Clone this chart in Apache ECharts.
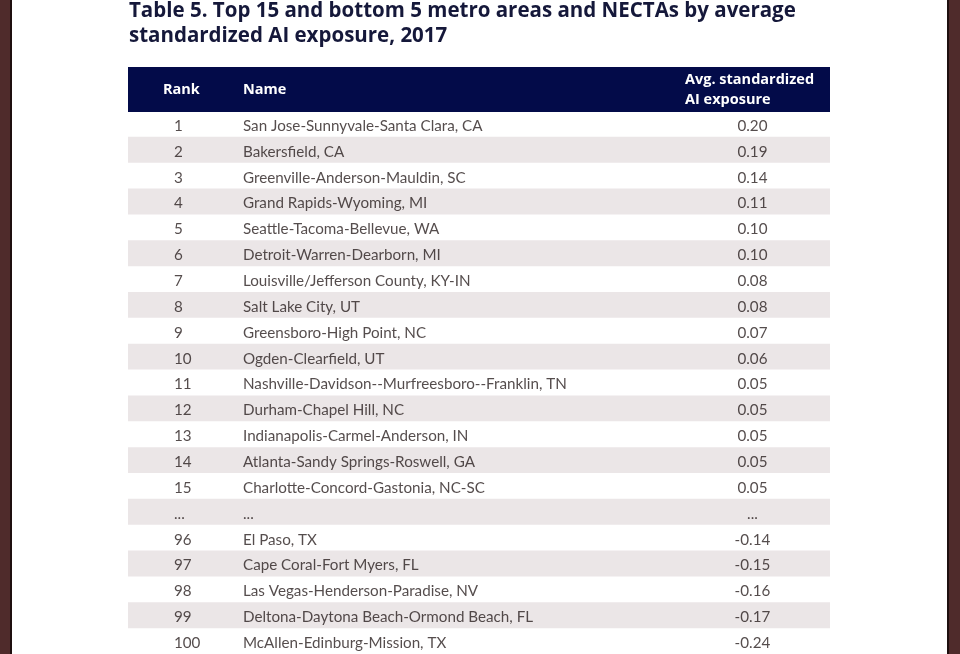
<!DOCTYPE html>
<html>
<head>
<meta charset="utf-8">
<script src="https://cdn.jsdelivr.net/npm/echarts@6/dist/echarts.min.js"></script>
<style>
  html, body { margin: 0; padding: 0; background: #ffffff; }
  #table { width: 960px; height: 654px; }
</style>
</head>
<body>
<div id="table"></div>
<script>
var ranks = ['1', '2', '3', '4', '5', '6', '7', '8', '9', '10', '11', '12', '13', '14', '15', '...', '96', '97', '98', '99', '100'];
var names = [
	'San Jose-Sunnyvale-Santa Clara, CA',
	'Bakersfield, CA',
	'Greenville-Anderson-Mauldin, SC',
	'Grand Rapids-Wyoming, MI',
	'Seattle-Tacoma-Bellevue, WA',
	'Detroit-Warren-Dearborn, MI',
	'Louisville/Jefferson County, KY-IN',
	'Salt Lake City, UT',
	'Greensboro-High Point, NC',
	'Ogden-Clearfield, UT',
	'Nashville-Davidson--Murfreesboro--Franklin, TN',
	'Durham-Chapel Hill, NC',
	'Indianapolis-Carmel-Anderson, IN',
	'Atlanta-Sandy Springs-Roswell, GA',
	'Charlotte-Concord-Gastonia, NC-SC',
	'...',
	'El Paso, TX',
	'Cape Coral-Fort Myers, FL',
	'Las Vegas-Henderson-Paradise, NV',
	'Deltona-Daytona Beach-Ormond Beach, FL',
	'McAllen-Edinburg-Mission, TX'
];
var exposure = [0.20, 0.19, 0.14, 0.11, 0.10, 0.10, 0.08, 0.08, 0.07, 0.06, 0.05, 0.05, 0.05, 0.05, 0.05, null, -0.14, -0.15, -0.16, -0.17, -0.24];
var headers = ['Rank', 'Name', 'Avg. standardized\nAI exposure'];

var font = 'Lato';
var headFont = '"Open Sans"';
var textColor = '#2a2021';

var chart = echarts.init(document.getElementById('table'));

// one text column = scatter with invisible symbols, labels carry the text
function column(x, align, fmt) {
	return {
		type: 'scatter',
		symbolSize: 0,
		silent: true,
		data: ranks.map(function (r, i) { return [x, i]; }),
		label: {
			show: true,
			position: 'inside',
			offset: [0, 2],
			align: align,
			verticalAlign: 'middle',
			fontFamily: font,
			fontSize: 15.2,
			color: textColor,
			formatter: function (p) { return fmt(p.dataIndex); }
		}
	};
}

var option = {
	backgroundColor: '#ffffff',
	animation: false,
	title: {
		text: 'Table 5. Top 15 and bottom 5 metro areas and NECTAs by average\nstandardized AI exposure, 2017',
		left: 124,
		top: -6,
		textStyle: {
			fontFamily: headFont,
			fontWeight: 'bold',
			fontSize: 20.5,
			lineHeight: 25,
			color: '#15183a'
		}
	},
	grid: { left: 128, width: 702, top: 111, height: 546 },
	xAxis: { type: 'value', min: 0, max: 1, show: false },
	yAxis: {
		type: 'category',
		inverse: true,
		show: false,
		data: ranks
	},
	series: [
		{
			type: 'bar',
			silent: true,
			barWidth: '100%',
			itemStyle: { color: '#ebe6e7' },
			data: ranks.map(function (r, i) { return i % 2 === 1 ? 1 : 0; })
		},
		column(0.0655, 'left', function (i) { return ranks[i]; }),
		column(0.1638, 'left', function (i) { return names[i]; }),
		column(0.8895, 'center', function (i) {
			return exposure[i] === null ? '...' : exposure[i].toFixed(2);
		})
	],
	graphic: [
		{ type: 'rect', shape: { x: 128, y: 67, width: 702, height: 45 }, style: { fill: '#030b49' }, silent: true },
		{ type: 'text', x: 163, y: 90, style: { text: headers[0], fill: '#ffffff', font: 'bold 14.5px "Open Sans"', verticalAlign: 'middle' } },
		{ type: 'text', x: 243, y: 90, style: { text: headers[1], fill: '#ffffff', font: 'bold 14.5px "Open Sans"', verticalAlign: 'middle' } },
		{ type: 'text', x: 685, y: 90, style: { text: headers[2], fill: '#ffffff', font: 'bold 14.5px "Open Sans"', lineHeight: 20, verticalAlign: 'middle' } },
		// frame edges
		{ type: 'rect', shape: { x: 0, y: 0, width: 10, height: 654 }, style: { fill: '#4f2b2b' }, silent: true },
		{ type: 'rect', shape: { x: 10, y: 0, width: 2, height: 654 }, style: { fill: '#1e0f0f' }, silent: true },
		{ type: 'rect', shape: { x: 947, y: 0, width: 2, height: 654 }, style: { fill: '#1e0f0f' }, silent: true },
		{ type: 'rect', shape: { x: 949, y: 0, width: 11, height: 654 }, style: { fill: '#4f2b2b' }, silent: true }
	]
};

chart.setOption(option);
</script>
</body>
</html>
